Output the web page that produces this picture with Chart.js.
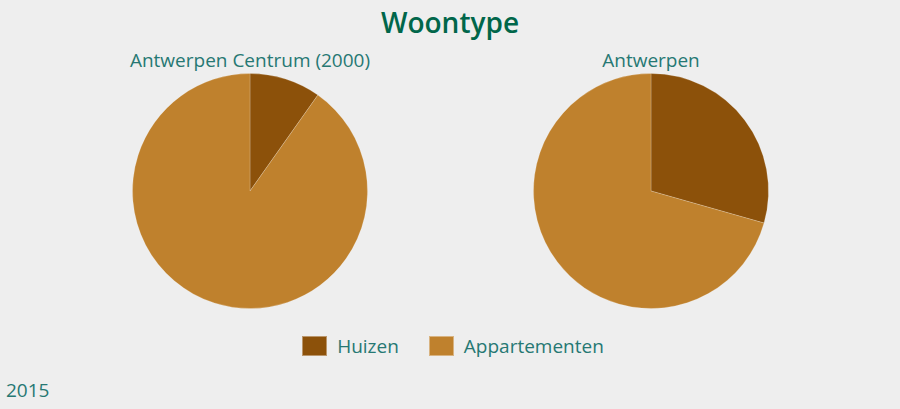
<!DOCTYPE html>
<html>
<head>
<meta charset="utf-8">
<script src="https://cdn.jsdelivr.net/npm/chart.js@4.4.1/dist/chart.umd.min.js"></script>
<style>
    html, body { margin: 0; padding: 0; }
    body { width: 900px; height: 409px; background: #eeeeee; font-family: 'Open Sans', sans-serif; position: relative; overflow: hidden; }
    .title { position: absolute; top: 3px; left: 0; width: 900px; text-align: center; font-size: 28px; font-weight: 600; color: #00664a; }
    .sub { position: absolute; top: 47px; width: 400px; text-align: center; font-size: 19px; color: #267873; }
    .pie { position: absolute; top: 73px; width: 400px; height: 236px; }
    .legend { position: absolute; top: 333px; left: 3px; width: 900px; display: flex; justify-content: center; gap: 30px; font-size: 19px; color: #267873; }
    .legend .item { display: flex; align-items: center; }
    .legend .box { width: 25px; height: 20px; margin-right: 10px; box-sizing: border-box; border: 1px solid rgba(255,255,255,0.4); }
    .year { position: absolute; left: 6px; top: 377px; font-size: 19px; color: #267873; }
</style>
</head>
<body>
<div class="title">Woontype</div>
<div class="sub" id="sub0" style="left:50px"></div>
<div class="sub" id="sub1" style="left:451px"></div>
<div class="pie" style="left:50px"><canvas id="pie0"></canvas></div>
<div class="pie" style="left:451px"><canvas id="pie1"></canvas></div>
<div class="legend" id="legend"></div>
<div class="year">2015</div>
<script>
// data (percent)
const categories = ['Huizen', 'Appartementen'];
const regions = ['Antwerpen Centrum (2000)', 'Antwerpen'];
const centrumValues = [9.8, 90.2];
const antwerpenValues = [29.4, 70.6];
const colors = ['#8c510a', '#bf812d'];

const seriesList = [centrumValues, antwerpenValues];

seriesList.forEach((values, i) => {
    document.getElementById('sub' + i).textContent = regions[i];
    new Chart(document.getElementById('pie' + i), {
        type: 'pie',
        data: {
            labels: categories,
            datasets: [{
                data: values,
                backgroundColor: colors,
                borderColor: 'rgba(255,255,255,0.2)',
                borderWidth: 1
            }]
        },
        options: {
            responsive: true,
            maintainAspectRatio: false,
            animation: false,
            plugins: { legend: { display: false }, tooltip: { enabled: false } }
        }
    });
});

const legend = document.getElementById('legend');
categories.forEach((c, i) => {
    const item = document.createElement('div');
    item.className = 'item';
    item.innerHTML = `<span class="box" style="background:${colors[i]}"></span><span>${c}</span>`;
    legend.appendChild(item);
});
</script>
</body>
</html>
